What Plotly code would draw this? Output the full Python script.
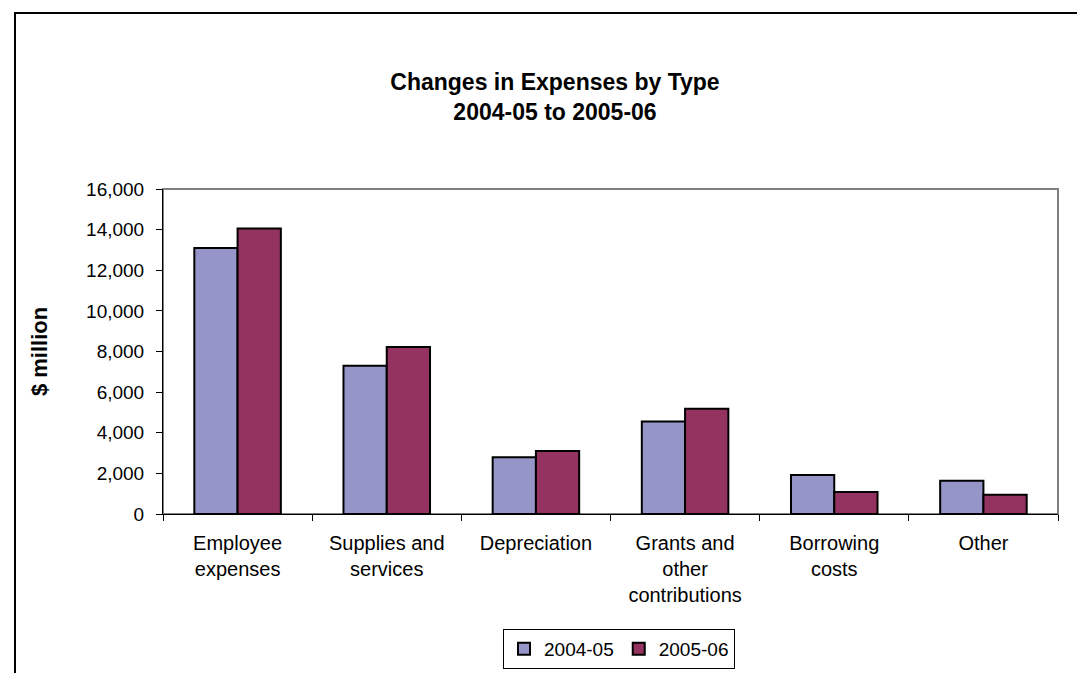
import plotly.graph_objects as go

categories = ["Employee<br>expenses", "Supplies and<br>services", "Depreciation",
              "Grants and<br>other<br>contributions", "Borrowing<br>costs", "Other"]
series_names = ["2004-05", "2005-06"]
values_2004_05 = [13100, 7300, 2800, 4560, 1920, 1640]
values_2005_06 = [14050, 8220, 3100, 5180, 1080, 950]
colors = ["#9595C8", "#94335F"]
y_ticks = [0, 2000, 4000, 6000, 8000, 10000, 12000, 14000, 16000]

W, H = 1085, 673
L, R, T, B = 155, 35, 181, 167
FONT = "Liberation Sans, Arial, sans-serif"

fig = go.Figure()
for name, vals, col in zip(series_names, [values_2004_05, values_2005_06], colors):
    fig.add_trace(go.Bar(x=categories, y=vals, name=name,
                         marker=dict(color=col, line=dict(color="black", width=2))))

pw = W - L - R
ph = H - T - B
# outer chart border
fig.add_shape(type="rect", xref="paper", yref="paper",
              x0=(7 - L) / pw, x1=(W + 20 - L) / pw,
              y0=-(H + 20 - (H - B)) / ph, y1=(H - B - 5) / ph,
              line=dict(color="black", width=2), layer="below")
# plot area border (gray)
fig.add_shape(type="rect", xref="paper", yref="paper", x0=0, x1=1, y0=0, y1=1,
              line=dict(color="#808080", width=2), layer="below")

fig.update_layout(
    width=W, height=H,
    margin=dict(l=L, r=R, t=T, b=B, pad=0),
    paper_bgcolor="white", plot_bgcolor="white",
    font=dict(family=FONT, size=19, color="black"),
    title=dict(text="<b>Changes in Expenses by Type<br>2004-05 to 2005-06</b>",
               x=547 / W, xanchor="center", xref="container",
               y=1 - 82 / H, yanchor="top", yref="container",
               font=dict(family=FONT, size=23, color="black")),
    barmode="group", bargap=0.42, bargroupgap=0,
    showlegend=True,
    legend=dict(orientation="h", xref="container", yref="container",
                x=611 / W, xanchor="center", y=1 - 621 / H, yanchor="top",
                bordercolor="black", borderwidth=1,
                font=dict(family=FONT, size=19), traceorder="normal"),
    xaxis=dict(type="category", showline=True, linecolor="black", linewidth=1,
               ticks="outside", tickson="boundaries", ticklen=6, tickcolor="black",
               showgrid=False, tickangle=0, tickfont=dict(size=20),
               ticklabelstandoff=11),
    yaxis=dict(range=[0, 16000], tickvals=y_ticks,
               ticktext=[f"{v:,}" for v in y_ticks],
               showline=True, linecolor="black", linewidth=1,
               ticks="outside", ticklen=6, tickcolor="black", showgrid=False,
               zeroline=False, tickfont=dict(size=19), ticklabelstandoff=8,
               title=dict(text="<b>$ million</b>", font=dict(size=22), standoff=32)),
)

fig.write_html("out.html")
